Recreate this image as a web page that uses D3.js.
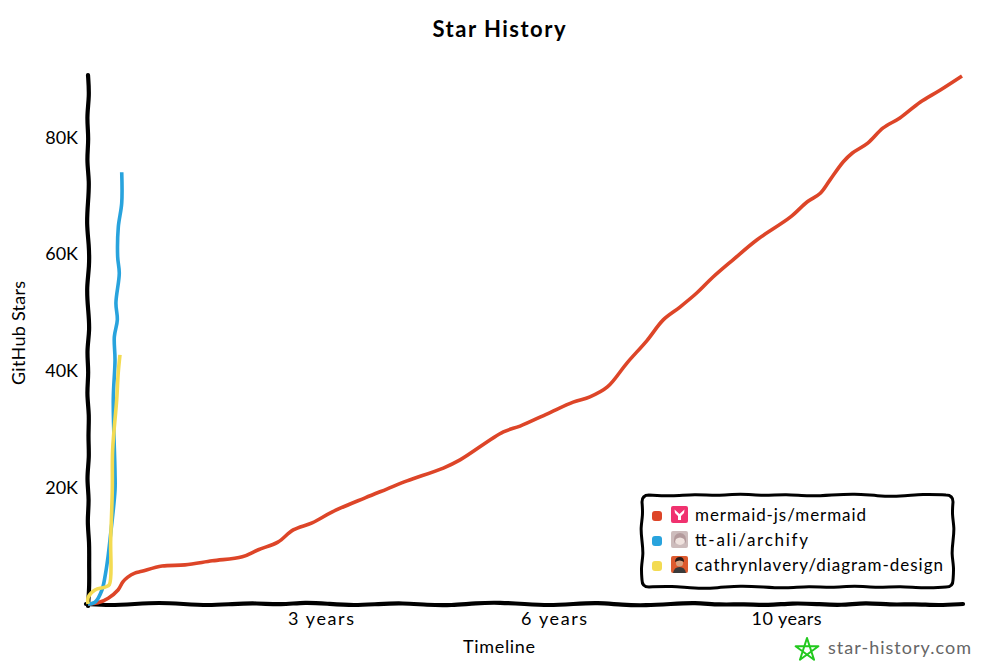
<html>
<head>
<title>Star History</title>
<style>
body { margin: 0; background: #fff; }
text { font-family: "Lato", sans-serif; fill: #000; }
</style>
</head>
<body>
<script src="https://d3js.org/d3.v7.min.js"></script>
<script>
// values: years since start, stars in thousands
var repoNames = ["mermaid-js/mermaid", "tt-ali/archify", "cathrynlavery/diagram-design"];
var repoColors = ["#dd4528", "#28a3dd", "#f3db52"];

var mermaidYears = [0, 0.14, 0.29, 0.43, 0.5, 0.57, 0.67, 0.77, 1.06, 1.39, 1.78, 2.21, 2.44, 2.72, 2.94, 3.21, 3.5, 3.97, 4.28, 4.57, 5.09, 5.33, 5.95, 6.19, 6.58, 6.95, 7.19, 7.44, 7.72, 8.01, 8.24, 8.48, 8.72, 8.95, 9.24, 9.58, 10.06, 10.3, 10.49, 10.63, 10.82, 10.95, 11.17, 11.39, 11.63, 11.92, 12.21, 12.52];
var mermaidStars = [0, 0.2, 1, 2.4, 3.8, 4.6, 5.3, 5.6, 6.5, 6.7, 7.4, 8.1, 9.3, 10.6, 12.7, 13.9, 15.8, 18.2, 19.7, 21.1, 23.3, 24.7, 29.5, 30.5, 32.6, 34.6, 35.5, 37.2, 41.3, 45.2, 48.7, 50.9, 53.3, 56, 59, 62.4, 66.3, 68.9, 70.4, 72.7, 75.8, 77.3, 79, 81.6, 83.3, 86, 88.1, 90.5];

var archifyYears = [0, 0.1, 0.2, 0.252, 0.287, 0.315, 0.387, 0.387, 0.362, 0.387, 0.377, 0.42, 0.4, 0.448, 0.425, 0.434, 0.483, 0.483];
var archifyStars = [0, 0.3, 2.4, 5.3, 8.1, 11, 19.5, 22.5, 35, 41.8, 45.8, 48.7, 51.6, 56.7, 59.5, 64.6, 68.7, 74];

var designYears = [0, 0.004, 0.1, 0.244, 0.305, 0.325, 0.348, 0.353, 0.411, 0.433, 0.458];
var designStars = [0, 1.2, 2.4, 2.9, 3.3, 11, 19.5, 26.4, 35, 39.6, 42.7];

var yTicks = [20, 40, 60, 80];
var xTicks = [3.33, 6.67, 10];
var xTickLabels = ["3 years", "6 years", "10 years"];

// small hand jitter for the axes and the legend box, in px
var axisJitterX = [0, 1.5, 0, -1.5, 0, 1.5, 0, -1, 1, -2, 0, 1.5, 0, -1, 1, 1.5, -1, -1.5, 0, 1.5, 0, -1.5, 1, 1.5, 0, -1.5, 1, 0, 1.5, -1, 0, 1.5, -1.5, 1, 0, 1.5, 0];
var axisJitterY = [0, 1.5, -1.5, 1, -1.5, 1.5, 0, -1.5, 1, 1.5, -1.5, 0, 2, -1.5, 1, -1.5, 1.5, 0, 1.5, -1.5, 1.5, -1, 1.5, 1, 1.5, 0];
var boxJitter = [0, 1.5, -1, 1, -1.5, 1, -1, 1.5, 0, -1.5, 1, 1.5, -1, 0];
var boxJitterSide = [0, -1, 1.5, 0, -1.5, 1, 0];

var series = [
  { years: mermaidYears, stars: mermaidStars },
  { years: archifyYears, stars: archifyStars },
  { years: designYears, stars: designStars }
];

var width = 1000, height = 668;

var x = d3.scaleLinear().domain([0, 12.52]).range([88, 962]);
var y = d3.scaleLinear().domain([0, 90.5]).range([604, 76]);

var svg = d3.select("body").append("svg")
    .attr("width", width)
    .attr("height", height)
    .style("display", "block");

var wobble = d3.line().curve(d3.curveBasis);

function wobblyPoints(x0, y0, x1, y1, jitter) {
  var n = jitter.length - 1;
  var horizontal = y0 == y1;
  return jitter.map(function(j, i) {
    var px = x0 + (x1 - x0) * i / n, py = y0 + (y1 - y0) * i / n;
    return horizontal ? [px, py + j] : [px + j, py];
  });
}

var chart = svg.append("g");

// title
chart.append("text")
    .attr("x", 499).attr("y", 37)
    .attr("text-anchor", "middle")
    .attr("font-size", 22)
    .attr("font-weight", "bold")
    .attr("textLength", 133)
    .text("Star History");

// axes
var yAxis = chart.append("g")
    .attr("transform", "translate(88,0)")
    .call(d3.axisLeft(y).tickValues(yTicks).tickSize(0).tickPadding(10)
      .tickFormat(function(d) { return d + "K"; }));
yAxis.select(".domain").remove();
yAxis.selectAll("text").attr("font-size", 18).style("font-family", "Lato");

var tickWidths = [66, 66, 70];
var xAxis = chart.append("g")
    .attr("transform", "translate(0,604)")
    .call(d3.axisBottom(x).tickValues(xTicks).tickSize(0).tickPadding(8)
      .tickFormat(function(d, i) { return xTickLabels[i]; }));
xAxis.select(".domain").remove();
xAxis.selectAll("text")
    .attr("font-size", 18)
    .attr("textLength", function(d, i) { return tickWidths[i]; })
    .style("font-family", "Lato");

chart.append("path")
    .attr("d", wobble(wobblyPoints(88, y.range()[1] - 1, 88, y.range()[0] + 2, axisJitterY)))
    .attr("fill", "none").attr("stroke", "#000").attr("stroke-width", 4.2).attr("stroke-linecap", "round");
chart.append("path")
    .attr("d", wobble(wobblyPoints(86, 604, 963, 604, axisJitterX)))
    .attr("fill", "none").attr("stroke", "#000").attr("stroke-width", 4.2).attr("stroke-linecap", "round");

// axis titles
chart.append("text")
    .attr("x", 499).attr("y", 653)
    .attr("text-anchor", "middle")
    .attr("font-size", 18)
    .attr("textLength", 72)
    .text("Timeline");
chart.append("text")
    .attr("transform", "translate(25,333) rotate(-90)")
    .attr("text-anchor", "middle")
    .attr("font-size", 18)
    .attr("textLength", 104)
    .text("GitHub Stars");

// series
var line = d3.line()
    .x(function(d) { return x(d.year); })
    .y(function(d) { return y(d.star); })
    .curve(d3.curveCatmullRom.alpha(0.5));

chart.selectAll(".star-line")
    .data(series)
  .enter().append("path")
    .attr("class", "star-line")
    .attr("d", function(s) {
      return line(s.years.map(function(v, i) { return { year: v, star: s.stars[i] }; }));
    })
    .attr("fill", "none")
    .attr("stroke", function(s, i) { return repoColors[i]; })
    .attr("stroke-width", 3.6)
    .attr("stroke-linecap", "butt")
    .attr("stroke-linejoin", "round");

// legend
var legend = chart.append("g");
var boxL = 642, boxR = 953, boxT = 495, boxB = 587, r = 7;
function side(x0, y0, x1, y1, jitter) {
  return wobble(wobblyPoints(x0, y0, x1, y1, jitter)).replace("M", "L");
}
var boxPath = "M" + (boxL + r) + "," + boxT
  + side(boxL + r, boxT, boxR - r, boxT, boxJitter)
  + "Q" + boxR + " " + boxT + " " + boxR + " " + (boxT + r)
  + side(boxR, boxT + r, boxR, boxB - r, boxJitterSide)
  + "Q" + boxR + " " + boxB + " " + (boxR - r) + " " + boxB
  + side(boxR - r, boxB, boxL + r, boxB, boxJitter)
  + "Q" + boxL + " " + boxB + " " + boxL + " " + (boxB - r)
  + side(boxL, boxB - r, boxL, boxT + r, boxJitterSide)
  + "Q" + boxL + " " + boxT + " " + (boxL + r) + " " + boxT;
legend.append("path")
    .attr("d", boxPath)
    .attr("fill", "#fff").attr("stroke", "#000").attr("stroke-width", 3);

var rowWidths = [171, 113, 248];
var rows = legend.selectAll(".row")
    .data(repoNames)
  .enter().append("g")
    .attr("class", "row")
    .attr("transform", function(d, i) { return "translate(0," + (515 + i * 25) + ")"; });

rows.append("rect")
    .attr("x", 652).attr("y", -4).attr("width", 10).attr("height", 10).attr("rx", 3)
    .attr("fill", function(d, i) { return repoColors[i]; });

rows.append("text")
    .attr("x", 695).attr("y", 6)
    .attr("font-size", 17)
    .attr("textLength", function(d, i) { return rowWidths[i]; })
    .text(function(d) { return d; });

// repo avatars
var avatarBg = ["#f0326f", "#cdbcbc", "#dd5a2e"];
rows.append("rect")
    .attr("x", 671).attr("y", -9).attr("width", 17).attr("height", 17).attr("rx", 2)
    .attr("fill", function(d, i) { return avatarBg[i]; });
d3.select(rows.nodes()[0]).append("path")
    .attr("d", "M674.5,-5.5 L679.5,-1 L684.5,-5.5 L684,-2 L681,1 L681,5 L678,5 L678,1 L675,-2 Z")
    .attr("fill", "#fff");
d3.select(rows.nodes()[1]).append("circle")
    .attr("cx", 680).attr("cy", 0).attr("r", 5).attr("fill", "#efe2de");
d3.select(rows.nodes()[1]).append("path")
    .attr("d", "M674,4 Q673,-7 680,-7 Q687,-7 686,4 L684,-1 Q680,-4 676,-1 Z")
    .attr("fill", "#b39a9c");
d3.select(rows.nodes()[2]).append("circle")
    .attr("cx", 679.5).attr("cy", -2).attr("r", 3.6).attr("fill", "#d8a07e");
d3.select(rows.nodes()[2]).append("path")
    .attr("d", "M675,-3 Q675,-8 680,-8 Q684,-8 684,-3 Q680,-6 675,-3 Z")
    .attr("fill", "#2a1c18");
d3.select(rows.nodes()[2]).append("path")
    .attr("d", "M673,8 Q674,2 679.5,2 Q685,2 686,8 Z")
    .attr("fill", "#3a3a3a");

// logo
var starPoints = d3.range(5).map(function(i) {
  var a = -Math.PI / 2 + i * 2 * 2 * Math.PI / 5;
  return [807 + 12 * Math.cos(a), 650 + 12 * Math.sin(a)];
});
chart.append("path")
    .attr("d", d3.line().curve(d3.curveLinearClosed)(starPoints))
    .attr("fill", "none").attr("stroke", "#22c91e").attr("stroke-width", 2).attr("stroke-linejoin", "round");
chart.append("text")
    .attr("x", 828).attr("y", 654)
    .attr("font-size", 18)
    .attr("textLength", 143)
    .style("fill", "#666")
    .text("star-history.com");
</script>
</body>
</html>
